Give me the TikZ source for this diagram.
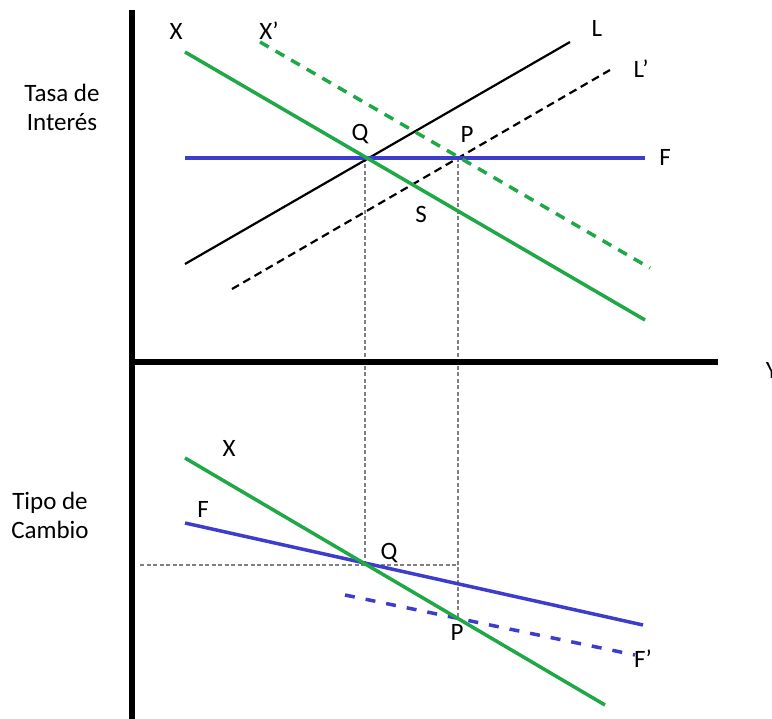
\documentclass[tikz,border=0pt]{standalone}
\usepackage{fontspec}
\setmainfont{Carlito}
\begin{document}
\begin{tikzpicture}[x=1pt,y=-1pt,
  lbl/.style={font=\fontsize{25}{29}\selectfont, inner sep=0pt},
  axis/.style={line width=6pt},
  grn/.style={draw={rgb,255:red,30;green,168;blue,70}, line width=3.5pt},
  blu/.style={draw={rgb,255:red,60;green,60;blue,205}, line width=3.5pt},
  blk/.style={draw=black, line width=2.2pt},
  guide/.style={draw=gray, line width=1.3pt, dash pattern=on 4pt off 2.5pt}]
\useasboundingbox (0,0) rectangle (772,719);
% coordinates
\coordinate (ytop) at (132,10);
\coordinate (ybot) at (132,719);
\coordinate (xl) at (129,362);
\coordinate (xr) at (718,362);
\coordinate (X1) at (185,52);   \coordinate (X2) at (645,320);
\coordinate (Xp1) at (260,42);  \coordinate (Xp2) at (650,268);
\coordinate (L1) at (185,264);  \coordinate (L2) at (570,42);
\coordinate (Lp1) at (232,289); \coordinate (Lp2) at (610,70);
\coordinate (F1) at (185,158);  \coordinate (F2) at (645,158);
\coordinate (Qt) at (365,158);  \coordinate (Pt) at (458,158);
\coordinate (bX1) at (185,458); \coordinate (bX2) at (605,705);
\coordinate (bF1) at (185,523); \coordinate (bF2) at (643,625);
\coordinate (bFp1) at (345,595);\coordinate (bFp2) at (635,655);
\coordinate (Qb) at (365,565);  \coordinate (Pb) at (458,618);
\coordinate (hl) at (140,565);  \coordinate (hr) at (458,565);
% guides
\draw[guide] (Qt) -- (Qb);
\draw[guide] (Pt) -- (Pb);
\draw[guide] (hl) -- (hr);
% top panel
\draw[blk] (L1) -- (L2);
\draw[blk, dash pattern=on 8pt off 5pt] (Lp1) -- (Lp2);
\draw[blu] (F1) -- (F2);
\draw[grn] (X1) -- (X2);
\draw[grn, dash pattern=on 10pt off 8pt] (Xp1) -- (Xp2);
% bottom panel
\draw[blu] (bF1) -- (bF2);
\draw[blu, dash pattern=on 10pt off 11pt] (bFp1) -- (bFp2);
\draw[grn] (bX1) -- (bX2);
% axes
\draw[axis] (ytop) -- (ybot);
\draw[axis] (xl) -- (xr);
% labels
\node[lbl] (lX) at (176,31) {X};
\node[lbl] (lXp) at (269,31) {X’};
\node[lbl] (lL) at (597,28) {L};
\node[lbl] (lLp) at (641,69) {L’};
\node[lbl] (lF) at (665,157) {F};
\node[lbl] (lQ) at (360,134) {Q};
\node[lbl] (lP) at (467,134) {P};
\node[lbl] (lS) at (421,214) {S};
\node[lbl] (lY) at (772,370) {Y};
\node[lbl] (bXl) at (229,448) {X};
\node[lbl] (bFl) at (203,509) {F};
\node[lbl] (bQl) at (389,553) {Q};
\node[lbl] (bPl) at (457,632) {P};
\node[lbl] (bFpl) at (643,659) {F’};
\node[lbl, align=center] (tasa) at (62,107) {Tasa de\\Interés};
\node[lbl, align=center] (tipo) at (50,515) {Tipo de\\Cambio};
\end{tikzpicture}
\end{document}
